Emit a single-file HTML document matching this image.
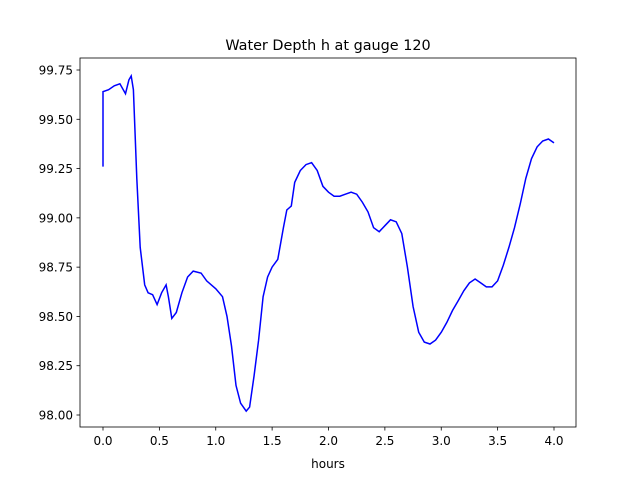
<!DOCTYPE html>
<html><head><meta charset="utf-8"><style>body{margin:0;background:#fff}svg{display:block;font-family:"DejaVu Sans","Liberation Sans",sans-serif}</style></head>
<body>
<svg id="chart" width="640" height="480" viewBox="0 0 640 480" xmlns="http://www.w3.org/2000/svg">
<rect width="640" height="480" fill="#fff"/>
<text x="328" y="50" text-anchor="middle" font-size="14.4">Water Depth h at gauge 120</text>
<g id="xt"></g>
<g id="yt"></g>
<path id="line" fill="none" stroke="#0000ff" stroke-width="1.5"/>
<rect x="80" y="58" width="496" height="369" fill="none" stroke="#000" stroke-width="0.8"/>
<text x="328" y="468" text-anchor="middle" font-size="12">hours</text>
</svg>
<script>
const hours=[0,0,0.05,0.1,0.15,0.2,0.23,0.25,0.27,0.3,0.33,0.37,0.4,0.44,0.48,0.52,0.56,0.58,0.61,0.65,0.7,0.75,0.8,0.87,0.92,1.0,1.06,1.1,1.14,1.18,1.22,1.27,1.3,1.34,1.38,1.42,1.46,1.5,1.55,1.6,1.63,1.67,1.7,1.75,1.8,1.85,1.9,1.95,2.0,2.05,2.1,2.15,2.2,2.25,2.3,2.35,2.4,2.45,2.5,2.55,2.6,2.65,2.7,2.75,2.8,2.85,2.9,2.95,3.0,3.05,3.1,3.15,3.2,3.25,3.3,3.35,3.4,3.45,3.5,3.55,3.6,3.65,3.7,3.75,3.8,3.85,3.9,3.95,4.0];
const depth=[99.26,99.64,99.65,99.67,99.68,99.63,99.70,99.72,99.65,99.2,98.85,98.66,98.62,98.61,98.56,98.62,98.66,98.6,98.49,98.52,98.62,98.70,98.73,98.72,98.68,98.64,98.6,98.5,98.35,98.15,98.06,98.02,98.04,98.2,98.38,98.6,98.7,98.75,98.79,98.95,99.04,99.06,99.18,99.24,99.27,99.28,99.24,99.16,99.13,99.11,99.11,99.12,99.13,99.12,99.08,99.03,98.95,98.93,98.96,98.99,98.98,98.92,98.75,98.55,98.42,98.37,98.36,98.38,98.42,98.47,98.53,98.58,98.63,98.67,98.69,98.67,98.65,98.65,98.68,98.76,98.85,98.95,99.07,99.2,99.3,99.36,99.39,99.40,99.38];
const xTicks=[0,0.5,1,1.5,2,2.5,3,3.5,4];
const xLabels=["0.0","0.5","1.0","1.5","2.0","2.5","3.0","3.5","4.0"];
const yTicks=[98,98.25,98.5,98.75,99,99.25,99.5,99.75];
const yLabels=["98.00","98.25","98.50","98.75","99.00","99.25","99.50","99.75"];
const NS="http://www.w3.org/2000/svg";
const X=v=>103+v*112.75, Y=v=>415-(v-98)*197.14;
function mk(t,a,p){const e=document.createElementNS(NS,t);for(const k in a)e.setAttribute(k,a[k]);p.appendChild(e);return e;}
const xt=document.getElementById('xt'),yt=document.getElementById('yt');
xTicks.forEach((v,i)=>{const l=mk('line',{x1:X(v),x2:X(v),y1:427,y2:430.5,stroke:'#000','stroke-width':0.8},xt);


const t=mk('text',{x:X(v),y:445,'text-anchor':'middle','font-size':12},xt);t.textContent=xLabels[i];

});
yTicks.forEach((v,i)=>{const l=mk('line',{x1:76.5,x2:80,y1:Y(v),y2:Y(v),stroke:'#000','stroke-width':0.8},yt);


const t=mk('text',{x:73,y:Y(v)+4.5,'text-anchor':'end','font-size':12},yt);t.textContent=yLabels[i];

});
document.getElementById('line').setAttribute('d',hours.map((h,i)=>(i?'L':'M')+X(h).toFixed(1)+','+Y(depth[i]).toFixed(1)).join(''));
</script>
</body></html>
